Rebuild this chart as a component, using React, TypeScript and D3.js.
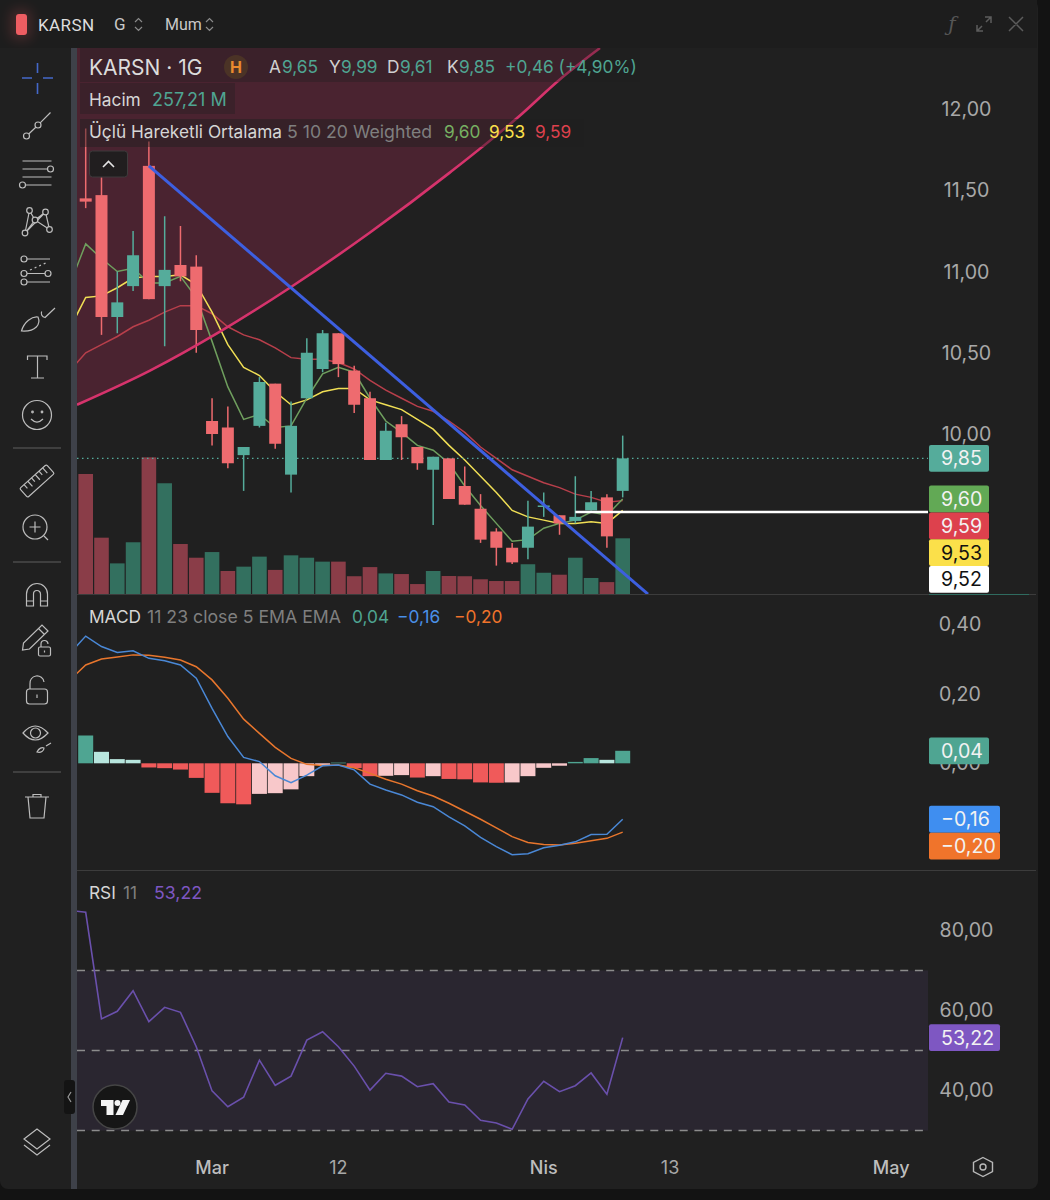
import React from 'react';
import * as d3 from 'd3';

// daily candles, one entry per bar
const opens = [11.45, 11.47, 10.72, 10.91, 11.65, 10.91, 11.04, 11.03, 10.08, 10.04, 9.87, 10.05, 10.31, 9.75, 10.22, 10.40, 10.62, 10.39, 10.22, 9.84, 10.06, 9.92, 9.78, 9.85, 9.68, 9.54, 9.40, 9.30, 9.30, 9.555, 9.50, 9.465, 9.53, 9.61, 9.65];
const closes = [11.43, 10.72, 10.81, 11.10, 10.83, 11.01, 10.97, 10.64, 10.00, 9.82, 9.92, 10.32, 9.94, 10.05, 10.50, 10.62, 10.43, 10.18, 9.84, 10.02, 9.98, 9.82, 9.86, 9.60, 9.565, 9.35, 9.30, 9.21, 9.43, 9.56, 9.45, 9.49, 9.58, 9.37, 9.85];
const highs = [11.88, 11.58, 11.00, 11.25, 11.80, 11.34, 11.28, 11.10, 10.22, 10.17, 9.92, 10.35, 10.31, 10.20, 10.59, 10.64, 10.62, 10.42, 10.26, 10.07, 10.11, 9.92, 9.86, 9.85, 9.80, 9.63, 9.42, 9.33, 9.59, 9.64, 9.50, 9.74, 9.65, 9.63, 9.99];
const lows = [11.39, 10.61, 10.62, 10.88, 10.83, 10.54, 10.94, 10.50, 9.93, 9.79, 9.65, 10.04, 9.91, 9.64, 10.22, 10.38, 10.35, 10.13, 9.84, 9.84, 9.84, 9.78, 9.44, 9.60, 9.565, 9.33, 9.19, 9.20, 9.23, 9.49, 9.38, 9.45, 9.53, 9.30, 9.61];
const volumes = [552.6, 260, 142, 239, 629, 510, 231, 168, 194, 107, 127, 173, 112, 179, 168, 150, 150, 83, 125, 96, 93, 47, 107, 84, 83, 69, 61, 61, 138, 99, 90, 168, 75, 56, 257.21];
const volumeDirs = 'rrggrgrrgrggrgggrrrgrrgrrrrrggrggrg';

// line series start one bar before the first candle, that bar is off the pane
const ma5 = [10.92, 11.17, 11.08, 11.00, 11.02, 10.93, 10.93, 10.97, 10.84, 10.57, 10.29, 10.09, 10.12, 10.04, 10.05, 10.22, 10.37, 10.41, 10.38, 10.22, 10.08, 10.01, 9.93, 9.90, 9.82, 9.68, 9.56, 9.45, 9.34, 9.35, 9.42, 9.45, 9.47, 9.52, 9.50, 9.60];
const ma10 = [10.65, 10.84, 10.85, 10.90, 10.96, 10.97, 10.97, 10.98, 10.92, 10.75, 10.55, 10.41, 10.36, 10.26, 10.18, 10.21, 10.26, 10.28, 10.28, 10.21, 10.18, 10.15, 10.09, 10.03, 9.93, 9.84, 9.74, 9.64, 9.53, 9.49, 9.47, 9.45, 9.45, 9.46, 9.45, 9.53];
const ma20 = [10.39, 10.50, 10.55, 10.60, 10.66, 10.70, 10.75, 10.79, 10.79, 10.74, 10.66, 10.61, 10.58, 10.53, 10.47, 10.46, 10.46, 10.44, 10.40, 10.33, 10.27, 10.22, 10.17, 10.14, 10.08, 10.01, 9.92, 9.85, 9.78, 9.74, 9.70, 9.67, 9.63, 9.61, 9.58, 9.59];
const macdLine = [.316, .366, .336, .319, .324, .302, .295, .283, .245, .158, .077, .017, .005, -.036, -.056, -.034, -.007, -.005, -.019, -.060, -.077, -.091, -.112, -.125, -.154, -.180, -.213, -.240, -.263, -.260, -.243, -.236, -.226, -.205, -.204, -.161];
const signalLine = [.240, .283, .300, .306, .312, .311, .305, .297, .278, .240, .187, .127, .086, .046, .014, -.003, -.006, -.005, -.013, -.029, -.046, -.060, -.079, -.094, -.115, -.138, -.161, -.186, -.211, -.228, -.234, -.235, -.230, -.223, -.216, -.198];
const macdHist = [.08, .033, .012, .01, -.012, -.014, -.018, -.042, -.085, -.115, -.118, -.088, -.086, -.075, -.037, -.005, .002, -.014, -.037, -.036, -.034, -.041, -.037, -.045, -.046, -.055, -.056, -.055, -.037, -.013, -.007, .004, .015, .01, .036];
const rsiLine = [85, 84.55, 57.9, 59.8, 64.95, 57.2, 60.8, 59.55, 50.95, 39.9, 35.95, 38.3, 47.6, 41.3, 43.6, 52.6, 54.7, 50.95, 46.1, 40.1, 44.3, 43.6, 40.95, 41.7, 37.1, 36.4, 32.55, 31.9, 30.3, 37.9, 42.3, 39.7, 41.2, 44.4, 39.05, 53.22];

const priceTicks = [12, 11.5, 11, 10.5, 10];
const macdTicks = [0.4, 0.2, 0];
const rsiTicks = [80, 60, 40];
const rsiBands = [70, 50, 30];
const timeTicks = [
  { bar: 8, label: 'Mar', bold: true },
  { bar: 16, label: '12', bold: false },
  { bar: 29, label: 'Nis', bold: true },
  { bar: 37, label: '13', bold: false },
  { bar: 51, label: 'May', bold: true },
];

// drawings: [bar, price]
const trendLine: [number, number][] = [[4, 11.65], [35.6, 9.015]];
const arcCurve: [number, number][] = [[-0.55, 10.18], [4.07, 10.39], [8.5, 10.63], [12.93, 10.90], [18, 11.24], [23.07, 11.61], [27.5, 11.96], [30, 12.18], [32.56, 12.375]];
const whiteLevel = { fromBar: 31, price: 9.52 };

const FONT = 'Inter, "Noto Sans", sans-serif';
const GREEN = '#55ac9b';
const RED = '#ee6b6f';
const MA5_COLOR = '#6f9f5e';
const MA10_COLOR = '#f0df55';
const MA20_COLOR = '#b83f4b';
const ICON = '#bdbdbd';

const locale = d3.formatLocale({ decimal: ',', thousands: '.', grouping: [3], currency: ['', ''], minus: '\u2212' });
const fmt = locale.format('.2f');

const left = 77;
const axisX = 928;
const paneTop = 48;
const priceBottom = 594;
const macdBottom = 870;
const rsiBottom = 1148;

const x = d3.scaleLinear().domain([0, 34]).range([85.7, 622.7]);
const yPrice = d3.scaleLinear().domain([12, 10]).range([109, 434]);
const yVolume = d3.scaleLinear().domain([0, 257.21]).range([594.3, 538.3]);
const yMacd = d3.scaleLinear().domain([0, 0.4]).range([763.3, 624.3]);
const yRsi = d3.scaleLinear().domain([80, 40]).range([930.5, 1090.5]);

const bars = d3.range(opens.length);

const seriesPath = (values: number[], y: d3.ScaleLinear<number, number>) =>
  d3.line<number>().x((_, i) => x(i - 1)).y(d => y(d))(values) ?? '';

const arcLine = d3.line<[number, number]>().x(d => x(d[0])).y(d => yPrice(d[1])).curve(d3.curveMonotoneX);
const arcArea = d3.area<[number, number]>().x(d => x(d[0])).y0(0).y1(d => yPrice(d[1])).curve(d3.curveMonotoneX);

// last-value tags push each other apart and stay inside the pane
const TAG_H = 26.8;
function stackTags(tags: { value: number; y: number; bg: string; fg: string }[], bottom: number) {
  const centers = tags.map(t => t.y);
  for (let i = 1; i < centers.length; i++) centers[i] = Math.max(centers[i], centers[i - 1] + TAG_H);
  let limit = bottom - TAG_H / 2;
  for (let i = centers.length - 1; i >= 0; i--) {
    if (i < centers.length - 1 && tags[i].bg === GREEN) break;
    centers[i] = Math.min(centers[i], limit);
    limit = centers[i] - TAG_H;
  }
  return tags.map((t, i) => ({ ...t, cy: centers[i] }));
}

const last = opens.length - 1;
const priceTags = stackTags([
  { value: closes[last], y: yPrice(closes[last]), bg: GREEN, fg: '#f2f2f2' },
  { value: ma5[last + 1], y: yPrice(ma5[last + 1]), bg: '#62a955', fg: '#f2f2f2' },
  { value: ma20[last + 1], y: yPrice(ma20[last + 1]), bg: '#dd414d', fg: '#f2f2f2' },
  { value: ma10[last + 1], y: yPrice(ma10[last + 1]), bg: '#fbe04a', fg: '#111' },
  { value: whiteLevel.price, y: yPrice(whiteLevel.price), bg: '#ffffff', fg: '#111' },
], priceBottom);
const macdTags = stackTags([
  { value: macdHist[last], y: yMacd(macdHist[last]), bg: '#4fa592', fg: '#f2f2f2' },
  { value: macdLine[last + 1], y: yMacd(macdLine[last + 1]), bg: '#3f8ef0', fg: '#f2f2f2' },
  { value: signalLine[last + 1], y: yMacd(signalLine[last + 1]) + 14, bg: '#f0742b', fg: '#f2f2f2' },
], macdBottom);
const rsiTags = [{ value: rsiLine[last + 1], cy: yRsi(rsiLine[last + 1]), bg: '#7e57c2', fg: '#f2f2f2' }];

function Tag({ value, cy, bg, fg, wide }: { value: number; cy: number; bg: string; fg: string; wide?: boolean }) {
  return (
    <g>
      <rect x={929} y={cy - TAG_H / 2} width={wide ? 71 : 60} height={TAG_H} rx={2} fill={bg} />
      <text x={941} y={cy + 7} fontSize={19.6} fill={fg}>{fmt(value)}</text>
    </g>
  );
}

function Toolbar() {
  return (
    <g fill="none" stroke={ICON} strokeWidth={1.2}>
      <g stroke="#4468c9" strokeWidth={1.6}>
        <path d="M22 78H32M43 78H53M37.5 63V73M37.5 83V94" />
      </g>
      <path d="M50.5 112.5L40.2 122.8M35.8 127.2L28.7 134" />
      <circle cx={38} cy={125} r={3} /><circle cx={26.5} cy={136} r={3} />
      <path d="M22.5 161H51.5M22.5 169H47.5M22.5 177H51.5M25.5 185H51.5" />
      <circle cx={50.5} cy={169} r={3} /><circle cx={22.5} cy={185} r={3} />
      <path d="M29.5 210.5L25 233M29.5 210.5L35 220L45.5 212L49.5 229.5L35 220L25 233L45.5 212" />
      <circle cx={29.5} cy={210.5} r={2.8} fill="#202020" /><circle cx={45.5} cy={212} r={2.8} fill="#202020" />
      <circle cx={35} cy={220} r={2.8} fill="#202020" /><circle cx={25} cy={233} r={2.8} fill="#202020" />
      <circle cx={49.5} cy={229.5} r={2.8} fill="#202020" />
      <path d="M27 259H50M27 273.5H45M27 282H50" />
      <path d="M30 270L48 262" strokeDasharray="2 3" />
      <circle cx={24} cy={259} r={3} /><circle cx={24} cy={273.5} r={3} /><circle cx={48} cy={273.5} r={3} /><circle cx={24} cy={282} r={3} />
      <path d="M21.5 331C24 322 32 316 38 317C41 324 36 332 21.5 331Z" />
      <path d="M41.7 311.5C40.5 314 42 317 45 317.5L55 308" />
      <path d="M27.5 360V356H47V360M37.5 356V378M31 378H44" />
      <circle cx={37} cy={415} r={14.5} />
      <circle cx={32.5} cy={412} r={0.8} /><circle cx={42} cy={412} r={0.8} />
      <path d="M31 419Q37 425 43 419" />
      <path d="M13 448H61M13 562H61M13 772H61" stroke="#4a4a4a" strokeWidth={1.5} />
      <g transform="rotate(-42 37 481)">
        <rect x={19} y={475} width={36} height={12} rx={1.5} />
        <path d="M25 475V480M30 475V482M35 475V480M40 475V482M45 475V480M50 475V482" />
      </g>
      <circle cx={35} cy={527} r={12} />
      <path d="M44 536L48 540M29.5 527H40.5M35 521.5V532.5" />
      <path d="M26.5 606V594A10 10 0 0 1 47.5 594V606H40.5V594A3.5 3.5 0 0 0 33.5 594V606ZM26.5 601H33.5M40.5 601H47.5" />
      <path d="M22.5 650L23.5 643L42 625L48 631L29.5 649ZM38.5 628.5L44.5 634.5" />
      <rect x={38.5} y={647} width={12} height={9} rx={1.5} />
      <path d="M41 647V644A3.5 3.5 0 0 1 48 644M44.5 650.5V652.5" />
      <rect x={26.5} y={689} width={21} height={15} rx={3} />
      <path d="M30 689V684A7 7 0 0 1 44 682M37 694.5V698" />
      <path d="M23 733Q35 719 48 733Q35 747 23 733Z" />
      <circle cx={35.5} cy={733} r={5} />
      <path d="M37 752C39 748 42 747 44 748C44 751 41 753 37 752ZM46 746L51 743" />
      <path d="M25 797H49M33 797V794.5H41V797M28 797L30 818H44L46 797" />
      <path d="M24 1139L37 1129L50 1139L37 1149ZM24 1145L37 1155L50 1145" />
      <rect x={64} y={1080} width={11} height={34} rx={3} fill="#141414" stroke="none" />
      <path d="M71 1092L68 1097L71 1102" stroke="#9a9a9a" />
    </g>
  );
}

function Logo() {
  return (
    <g>
      <circle cx={115} cy={1107} r={22} fill="#161616" stroke="#454545" strokeWidth={1.5} />
      <path d="M101 1100H113.5V1115H106.5V1106H101Z" fill="#f4f4f4" />
      <circle cx={117.5} cy={1103} r={3} fill="#f4f4f4" />
      <path d="M122.5 1100H130L123 1115H115.5Z" fill="#f4f4f4" />
    </g>
  );
}

function Header() {
  return (
    <g>
      <rect x={0} y={0} width={1037} height={48} fill="#1d1d1d" />
      <rect x={10} y={9} width={22} height={31} rx={6} fill="#ee5d62" opacity={0.18} filter="url(#glow)" />
      <rect x={16} y={14} width={11} height={21} rx={3} fill="#ee5d62" />
      <text x={38} y={31} fontFamily="Roboto, sans-serif" fontSize={17} letterSpacing={0.4} fill="#dedede">KARSN</text>
      <text x={114} y={30} fontFamily="Roboto, sans-serif" fontSize={17} fill="#c9c9c9">G</text>
      <text x={165} y={30} fontFamily="Roboto, sans-serif" fontSize={16} fill="#c9c9c9">Mum</text>
      <path d="M135 22L138.5 18.5L142 22M135 27L138.5 30.5L142 27M206 22L209.5 18.5L213 22M206 27L209.5 30.5L213 27" fill="none" stroke="#8a8a8a" strokeWidth={1.2} />
      <text x={952} y={31} fontFamily="DejaVu Serif, serif" fontStyle="italic" fontSize={20} textAnchor="middle" fill="#555">ƒ</text>
      <path d="M977 31L982 26M986 22L991 17M985 17H991V23M977 25V31H983M1009 17L1023 31M1023 17L1009 31" fill="none" stroke="#5c5c5c" strokeWidth={1.5} />
    </g>
  );
}

function Legend() {
  const green = '#4fa592';
  const gray = '#7f7f7f';
  const label = '#d6d6d6';
  return (
    <g fontSize={17.3}>
      <rect x={80} y={48} width={560} height={34} fill="#202020" opacity={0.35} />
      <rect x={80} y={83} width={155} height={31} fill="#202020" opacity={0.35} />
      <rect x={80} y={119} width={504} height={28} fill="#202020" opacity={0.45} />
      <text x={89} y={75} fontSize={21} fill="#dcdcdc">KARSN · 1G</text>
      <circle cx={236} cy={67} r={12} fill="#4b3326" />
      <text x={236} y={73} fontSize={16} fontWeight={700} textAnchor="middle" fill="#e98a2e">H</text>
      <text x={269} y={73} fill="#d0d0d0">A</text><text x={282} y={73} fill={green}>{fmt(opens[last])}</text>
      <text x={329} y={73} fill="#d0d0d0">Y</text><text x={341} y={73} fill={green}>{fmt(highs[last])}</text>
      <text x={387} y={73} fill="#d0d0d0">D</text><text x={400} y={73} fill={green}>{fmt(lows[last])}</text>
      <text x={447} y={73} fill="#d0d0d0">K</text><text x={459} y={73} fill={green}>{fmt(closes[last])}</text>
      <text x={505} y={73} fill={green}>+0,46 (+4,90%)</text>
      <text x={89} y={106} fill={label}>Hacim</text>
      <text x={152} y={106} fontSize={18} fill={green}>257,21 M</text>
      <text x={89} y={138} fill={label}>Üçlü Hareketli Ortalama</text>
      <text x={287} y={138} fontSize={17.7} fill={gray}>5 10 20 Weighted</text>
      <text x={444} y={138} fill="#76b062">{fmt(ma5[last + 1])}</text>
      <text x={489} y={138} fill="#fbe04a">{fmt(ma10[last + 1])}</text>
      <text x={535} y={138} fill="#dd414d">{fmt(ma20[last + 1])}</text>
      <rect x={89.5} y={151} width={38} height={26} rx={3} fill="#211e1f" stroke="#3f3b3c" />
      <path d="M103 167L108.5 161.5L114 167" fill="none" stroke="#e4e4e4" strokeWidth={1.6} />
      <text x={89} y={623} fill={label}>MACD</text>
      <text x={147} y={623} fontSize={17.7} fill={gray}>11 23 close 5 EMA EMA</text>
      <text x={352} y={623} fill={green}>{fmt(macdHist[last])}</text>
      <text x={397} y={623} fill="#4a90e8">{fmt(macdLine[last + 1])}</text>
      <text x={454} y={623} fill="#f0742b">{fmt(signalLine[last + 1])}</text>
      <text x={89} y={899} fill={label}>RSI</text>
      <text x={123} y={899} fill={gray}>11</text>
      <text x={154} y={899} fontSize={17.7} fill="#7e57c2">{fmt(rsiLine[last + 1])}</text>
    </g>
  );
}

export default function App() {
  const bodyW = 12;
  const volW = 14.6;
  const histW = 15;
  return (
    <svg width={1050} height={1200} viewBox="0 0 1050 1200" fontFamily={FONT} style={{ position: 'absolute', left: 0, top: 0, display: 'block' }}>
      <defs>
        <clipPath id="pricePane"><rect x={left} y={paneTop} width={axisX - left} height={priceBottom - paneTop} /></clipPath>
        <clipPath id="macdPane"><rect x={left} y={priceBottom + 1} width={axisX - left} height={macdBottom - priceBottom - 1} /></clipPath>
        <clipPath id="rsiPane"><rect x={left} y={macdBottom + 1} width={axisX - left} height={rsiBottom - macdBottom - 1} /></clipPath>
        <filter id="glow" x="-100%" y="-100%" width="300%" height="300%"><feGaussianBlur stdDeviation="6" /></filter>
      </defs>

      <rect width={1050} height={1200} fill="#131313" />
      <rect width={1038} height={1189} rx={8} fill="#202020" />
      <Header />
      <rect x={71} y={48} width={6} height={1141} fill="#3e4149" />

      {/* price pane */}
      <g clipPath="url(#pricePane)">
        <path d={arcArea(arcCurve) ?? ''} fill="#4a2330" />
        {bars.map(i => (
          <rect key={i} x={x(i) - volW / 2} y={yVolume(volumes[i])} width={volW} height={yVolume(0) - yVolume(volumes[i])}
            fill={volumeDirs[i] === 'g' ? '#33705f' : '#8a3d48'} />
        ))}
        <path d={seriesPath(ma20, yPrice)} fill="none" stroke={MA20_COLOR} strokeWidth={1.5} />
        <path d={seriesPath(ma10, yPrice)} fill="none" stroke={MA10_COLOR} strokeWidth={1.5} />
        <path d={seriesPath(ma5, yPrice)} fill="none" stroke={MA5_COLOR} strokeWidth={1.5} />
        <line x1={left} x2={axisX} y1={yPrice(closes[last])} y2={yPrice(closes[last])} stroke={GREEN} strokeWidth={1.3} strokeDasharray="1.5 3.5" />
        {bars.map(i => {
          const up = closes[i] >= opens[i];
          const color = up ? GREEN : RED;
          const top = yPrice(Math.max(opens[i], closes[i]));
          const bottom = yPrice(Math.min(opens[i], closes[i]));
          return (
            <g key={i}>
              <line x1={x(i)} x2={x(i)} y1={yPrice(highs[i])} y2={yPrice(lows[i])} stroke={color} strokeWidth={1.5} />
              <rect x={x(i) - bodyW / 2} y={top} width={bodyW} height={Math.max(bottom - top, 1.5)} fill={color} />
            </g>
          );
        })}
        <path d={arcLine(arcCurve) ?? ''} fill="none" stroke="#d6336c" strokeWidth={2.6} />
        <line x1={x(trendLine[0][0])} y1={yPrice(trendLine[0][1])} x2={x(trendLine[1][0])} y2={yPrice(trendLine[1][1])} stroke="#3d5fe0" strokeWidth={3} />
        <line x1={x(whiteLevel.fromBar)} x2={axisX} y1={yPrice(whiteLevel.price)} y2={yPrice(whiteLevel.price)} stroke="#ffffff" strokeWidth={2.6} />
      </g>
      <line x1={left} x2={1036} y1={594.5} y2={594.5} stroke="#3c3c3c" strokeWidth={1.2} />
      <line x1={929} x2={1029} y1={594.5} y2={594.5} stroke="#2f6b5f" strokeWidth={1.2} />
      <g fontSize={19.6} fill="#a8a8a8">
        {priceTicks.map(t => <text key={t} x={966.5} y={yPrice(t) + 7} textAnchor="middle">{fmt(t)}</text>)}
      </g>
      {priceTags.map(t => <Tag key={t.bg} value={t.value} cy={t.cy} bg={t.bg} fg={t.fg} />)}

      {/* macd pane */}
      <g clipPath="url(#macdPane)">
        {bars.map(i => {
          const v = macdHist[i];
          const prev = i > 0 ? macdHist[i - 1] : -1;
          const color = v >= 0 ? (v > prev ? '#4fa592' : '#b8e6de') : (v < prev ? '#f05a5a' : '#f8c8ca');
          return (
            <rect key={i} x={x(i) - histW / 2} y={Math.min(yMacd(v), yMacd(0))} width={histW} height={Math.abs(yMacd(v) - yMacd(0))} fill={color} />
          );
        })}
        <path d={seriesPath(signalLine, yMacd)} fill="none" stroke="#e8762d" strokeWidth={1.5} />
        <path d={seriesPath(macdLine, yMacd)} fill="none" stroke="#4a88d6" strokeWidth={1.5} />
      </g>
      <line x1={left} x2={1036} y1={870.5} y2={870.5} stroke="#3c3c3c" strokeWidth={1.2} />
      <g fontSize={19.6} fill="#a8a8a8">
        {macdTicks.map(t => <text key={t} x={960} y={yMacd(t) + 7} textAnchor="middle">{fmt(t)}</text>)}
      </g>
      {macdTags.map(t => <Tag key={t.bg} value={t.value} cy={t.cy} bg={t.bg} fg={t.fg} wide={t.value < 0} />)}

      {/* rsi pane */}
      <g clipPath="url(#rsiPane)">
        <rect x={left} y={yRsi(rsiBands[0])} width={axisX - left} height={yRsi(rsiBands[2]) - yRsi(rsiBands[0])} fill="#2a2630" />
        {rsiBands.map(b => (
          <line key={b} x1={left} x2={axisX} y1={yRsi(b)} y2={yRsi(b)} stroke="#8c8c8c" strokeWidth={1.3} strokeDasharray="8 6.7" />
        ))}
        <path d={seriesPath(rsiLine, yRsi)} fill="none" stroke="#6a50ac" strokeWidth={1.6} />
      </g>
      <g fontSize={19.6} fill="#a8a8a8">
        {rsiTicks.map(t => <text key={t} x={966.5} y={yRsi(t) + 6} textAnchor="middle">{fmt(t)}</text>)}
      </g>
      {rsiTags.map(t => <Tag key={t.bg} value={t.value} cy={t.cy} bg={t.bg} fg={t.fg} wide />)}

      {/* time axis */}
      <g fontSize={18}>
        {timeTicks.map(t => (
          <text key={t.label} x={x(t.bar)} y={1174} textAnchor="middle" fontWeight={t.bold ? 500 : 400} fill={t.bold ? '#bdbdbd' : '#a8a8a8'}>{t.label}</text>
        ))}
      </g>
      <path d="M983 1157.5L992.5 1162.5V1171.5L983 1176.5L973.5 1171.5V1162.5Z" fill="none" stroke="#b8b8b8" strokeWidth={1.4} />
      <circle cx={983} cy={1167} r={3} fill="none" stroke="#b8b8b8" strokeWidth={1.4} />

      <Toolbar />
      <Logo />
      <Legend />
    </svg>
  );
}
